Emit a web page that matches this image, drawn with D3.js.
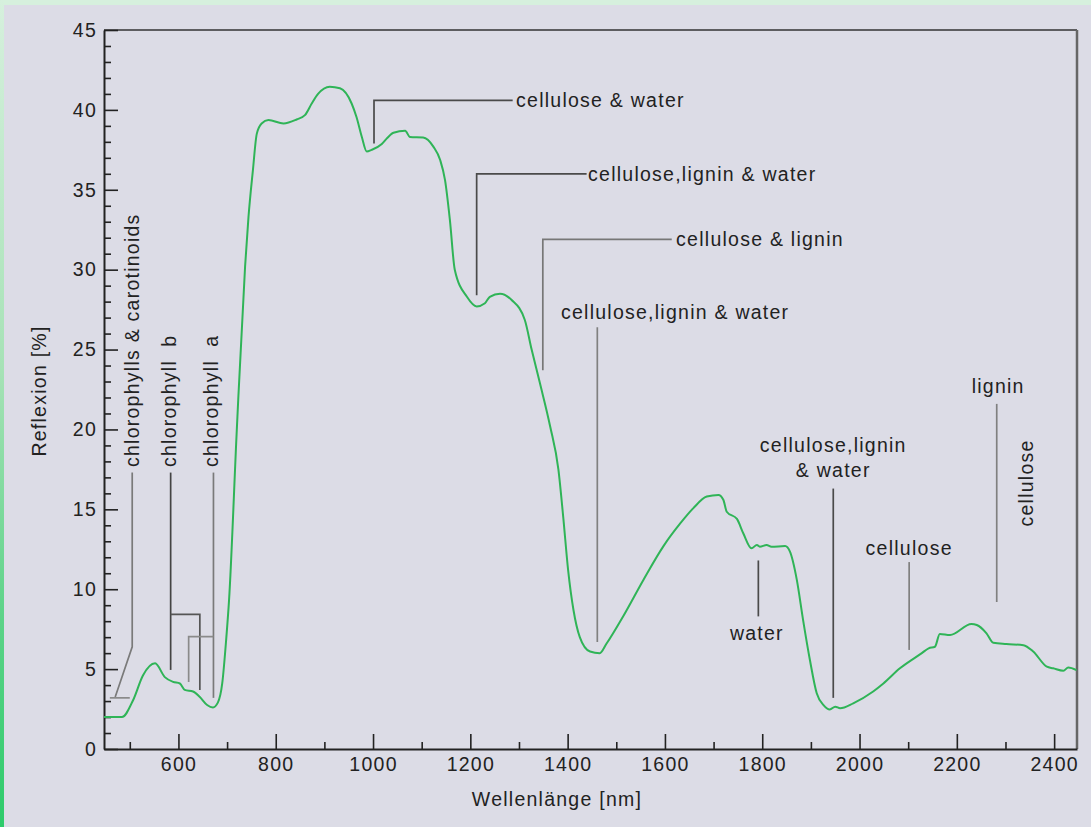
<!DOCTYPE html>
<html>
<head>
<meta charset="utf-8">
<script src="https://cdn.jsdelivr.net/npm/d3@7"></script>
<style>
  html, body { margin: 0; padding: 0; background: #dcdce6; }
  svg { display: block; }
  text { font-family: "Liberation Sans", Arial, Helvetica, sans-serif; fill: #222; font-size: 19.5px; letter-spacing: 1.25px; }
</style>
</head>
<body>
<svg id="chart" width="1091" height="827"></svg>
<script>
// Leaf reflectance spectrum: wavelength [nm] and reflexion [%]
const wavelength = [447, 484, 507, 527, 552, 572, 589, 603, 613, 630, 644, 659, 671, 681, 690, 698, 704, 720,
  737, 744, 753, 761, 771, 785, 816, 843, 860, 874, 887, 911, 932, 956, 966, 977, 987, 997, 1018, 1028, 1042,
  1066, 1076, 1103, 1124, 1138, 1148, 1158, 1168, 1193, 1213, 1230, 1240, 1261, 1285, 1312, 1326, 1343, 1364,
  1381, 1391, 1401, 1412, 1425, 1446, 1466, 1480, 1514, 1556, 1597, 1631, 1658, 1686, 1710, 1720, 1727, 1748,
  1761, 1778, 1789, 1795, 1809, 1819, 1847, 1857, 1871, 1884, 1898, 1912, 1926, 1939, 1950, 1960, 1987, 2028,
  2049, 2083, 2128, 2142, 2155, 2165, 2186, 2230, 2241, 2261, 2275, 2302, 2337, 2357, 2385, 2398, 2419, 2429, 2446];
const reflexion = [2.0, 2.0, 3.07, 4.6, 5.36, 4.5, 4.2, 4.1, 3.7, 3.6, 3.25, 2.75, 2.6, 2.9, 4.1, 6.8, 9.3, 20.0,
  30.2, 33.3, 36.2, 38.5, 39.15, 39.36, 39.15, 39.4, 39.67, 40.4, 41.0, 41.45, 41.35, 40.4, 39.55, 38.3, 37.4, 37.5, 37.86, 38.2, 38.57,
  38.7, 38.3, 38.27, 37.7, 36.86, 35.6, 33.1, 30.0, 28.3, 27.7, 27.9, 28.3, 28.5, 28.1, 26.85, 25.0, 22.9, 20.2,
  17.5, 14.5, 11.2, 8.7, 7.0, 6.1, 6.0, 6.6, 8.3, 10.6, 12.7, 14.1, 15.06, 15.8, 15.9, 15.6, 14.85, 14.4,
  13.5, 12.56, 12.77, 12.66, 12.77, 12.66, 12.7, 12.35, 10.6, 8.07, 5.57, 3.49, 2.75, 2.48, 2.65, 2.55, 2.86, 3.6,
  4.1, 5.05, 6.0, 6.3, 6.4, 7.2, 7.13, 7.82, 7.76, 7.24, 6.65, 6.57, 6.5, 6.1, 5.15, 5.05, 4.9, 5.1, 4.94];

// Axis ticks
const yMajorTicks = [0, 5, 10, 15, 20, 25, 30, 35, 40, 45];
const yMinorTicks = d3.range(0, 46, 1).filter(v => v % 5 !== 0);
const xMajorTicks = [600, 800, 1000, 1200, 1400, 1600, 1800, 2000, 2200, 2400];
const xMinorTicks = [500, 700, 900, 1100, 1300, 1500, 1700, 1900, 2100, 2300];
const xTitle = "Wellenlänge [nm]";
const yTitle = "Reflexion [%]";

// Absorption feature leader lines, as [wavelength, reflexion] polylines
const leaderPoints = [
  [[1002, 37.9], [1002, 40.6], [1287, 40.6]],
  [[1213, 28.4], [1213, 36.0], [1439, 36.0]],
  [[1349, 23.7], [1349, 31.9], [1614, 31.9]],
  [[1461, 6.7], [1461, 26.4]],
  [[1792, 8.3], [1792, 11.8]],
  [[1946, 3.2], [1946, 16.3]],
  [[2102, 6.2], [2102, 11.7]],
  [[2282, 9.2], [2282, 21.6]],
  [[505, 17.3], [505, 6.4], [470, 3.25]],
  [[459, 3.2], [500, 3.2]],
  [[584, 17.3], [584, 4.95]],
  [[584, 8.43], [644, 8.43], [644, 3.7]],
  [[672, 17.3], [672, 3.2]],
  [[621, 4.2], [621, 7.03], [672, 7.03]]
];
const leaderTone = ["#4a4a4a", "#4a4a4a", "#777", "#808080", "#4a4a4a", "#4a4a4a", "#808080", "#808080",
  "#7a7a7a", "#8a8a8a", "#444", "#555", "#7a7a7a", "#8a8a8a"];

// Labels: text, anchor wavelength, anchor reflexion, alignment, rotation
const labelText = ["cellulose & water", "cellulose,lignin & water", "cellulose & lignin",
  "cellulose,lignin & water", "water", "cellulose,lignin", "& water", "cellulose", "lignin", "cellulose",
  "chlorophylls & carotinoids", "chlorophyll  b", "chlorophyll  a"];
const labelWl = [1294, 1442, 1623, 1621, 1789, 1946, 1946, 2102, 2285, 2357, 519, 595, 682];
const labelR = [40.6, 36.0, 31.9, 26.94, 6.82, 18.6, 17.04, 12.14, 22.26, 16.65, 17.65, 17.65, 17.65];
const labelAnchor = ["start", "start", "start", "middle", "middle", "middle", "middle", "middle", "middle", "middle", "start", "start", "start"];
const labelRotate = [0, 0, 0, 0, 0, 0, 0, 0, 0, -90, -90, -90, -90];
const labelCentered = [true, true, true, false, false, false, false, false, false, false, false, false, false];

const W = 1091, H = 827;
const plot = { left: 104, right: 1077, top: 30, bottom: 749 };

const svg = d3.select("#chart");

// Frame decoration: green strips along the top and left edges
const defs = svg.append("defs");
const grad = defs.append("linearGradient").attr("id", "edgeGrad")
  .attr("x1", 0).attr("y1", 0).attr("x2", 0).attr("y2", 1);
grad.append("stop").attr("offset", "0%").attr("stop-color", "#d6f0dd");
grad.append("stop").attr("offset", "45%").attr("stop-color", "#a6e2b6");
grad.append("stop").attr("offset", "75%").attr("stop-color", "#5cd388");
grad.append("stop").attr("offset", "100%").attr("stop-color", "#2ecb6b");
svg.append("rect").attr("x", 0).attr("y", 0).attr("width", W).attr("height", H).attr("fill", "#dcdce6");
svg.append("rect").attr("x", 0).attr("y", 0).attr("width", W).attr("height", 5).attr("fill", "#d6f0dd");
svg.append("rect").attr("x", 0).attr("y", 0).attr("width", 4).attr("height", H).attr("fill", "url(#edgeGrad)");

const x = d3.scaleLinear().domain([447, 2447]).range([plot.left, plot.right]);
const y = d3.scaleLinear().domain([0, 45]).range([plot.bottom, plot.top]);

// Top and right frame lines
svg.append("line").attr("x1", plot.left).attr("x2", plot.right).attr("y1", plot.top).attr("y2", plot.top)
  .attr("stroke", "#333").attr("stroke-width", 1.6);
svg.append("line").attr("x1", plot.right).attr("x2", plot.right).attr("y1", plot.top).attr("y2", plot.bottom)
  .attr("stroke", "#666").attr("stroke-width", 2.5);

// Y axis
const yAxis = svg.append("g").attr("transform", `translate(${plot.left},0)`)
  .call(d3.axisLeft(y).tickValues(yMajorTicks).tickSize(-14).tickSizeOuter(0).tickPadding(7).tickFormat(d3.format("d")));
svg.append("g").attr("transform", `translate(${plot.left},0)`)
  .call(d3.axisLeft(y).tickValues(yMinorTicks).tickSize(-7).tickSizeOuter(0).tickFormat(""))
  .call(g => g.select(".domain").remove());

// X axis
const xAxis = svg.append("g").attr("transform", `translate(0,${plot.bottom})`)
  .call(d3.axisBottom(x).tickValues(xMajorTicks).tickSize(-15).tickSizeOuter(0).tickPadding(8).tickFormat(d3.format("d")));
svg.append("g").attr("transform", `translate(0,${plot.bottom})`)
  .call(d3.axisBottom(x).tickValues(xMinorTicks).tickSize(-7).tickSizeOuter(0).tickFormat(""))
  .call(g => g.select(".domain").remove());

svg.selectAll(".tick line").attr("stroke", "#222").attr("stroke-width", 1.6);
svg.selectAll(".domain").attr("stroke", "#222").attr("stroke-width", 2);
svg.selectAll(".tick text").attr("font-size", null).attr("font-family", null).attr("fill", "#222");

// Axis titles
svg.append("text").attr("x", 557).attr("y", 806).attr("text-anchor", "middle").text(xTitle);
svg.append("text").attr("transform", "translate(46,391) rotate(-90)").attr("text-anchor", "middle").text(yTitle);

// Leader lines
const lineGen = d3.line().x(d => x(d[0])).y(d => y(d[1]));
svg.append("g").selectAll("path").data(leaderPoints).join("path")
  .attr("d", lineGen)
  .attr("fill", "none")
  .attr("stroke", (d, i) => leaderTone[i])
  .attr("stroke-width", 1.7);

// Labels
svg.append("g").selectAll("text").data(labelText).join("text")
  .attr("transform", (d, i) => `translate(${x(labelWl[i])},${y(labelR[i])}) rotate(${labelRotate[i]})`)
  .attr("text-anchor", (d, i) => labelAnchor[i])
  .attr("dy", (d, i) => labelCentered[i] ? "0.35em" : null)
  .style("white-space", "pre")
  .text(d => d);

// Spectrum curve
const spectrum = wavelength.map((w, i) => [w, reflexion[i]]);
svg.append("path").datum(spectrum)
  .attr("d", d3.line().x(d => x(d[0])).y(d => y(d[1])).curve(d3.curveMonotoneX))
  .attr("fill", "none")
  .attr("stroke", "#2fb457")
  .attr("stroke-width", 2);
</script>
</body>
</html>
